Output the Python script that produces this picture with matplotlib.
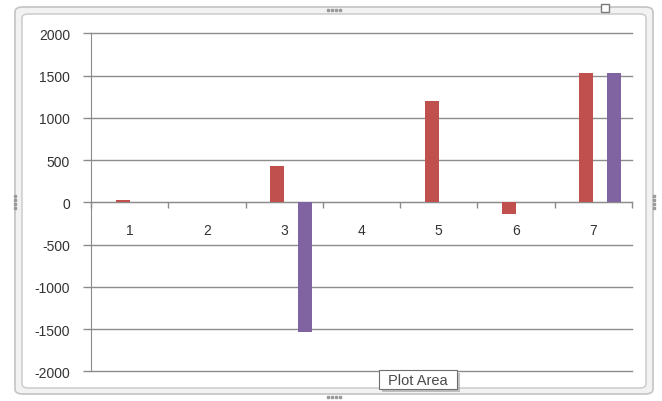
import numpy as np
import matplotlib.pyplot as plt
from matplotlib.patches import FancyBboxPatch, Rectangle

plt.rcParams['axes.unicode_minus'] = False

categories = ['1', '2', '3', '4', '5', '6', '7']
series_1 = [0, 0, 0, 0, 0, 0, 0]
series_2 = [25, 0, 435, 0, 1195, -135, 1535]
series_3 = [0, 0, 0, 0, 0, 0, 0]
series_4 = [0, 0, -1540, 0, 0, 0, 1535]
colors = ['#4F81BD', '#C0504D', '#9BBB59', '#8064A2']

W, H = 662, 402
fig = plt.figure(figsize=(W / 100, H / 100), dpi=100)
fig.patch.set_facecolor('white')

def fx(px):
    return px / W

def fy(py):
    return 1 - py / H

def fig_rect(x0, y0, x1, y1, z=-1, **kw):
    # pixel box (top-left origin) -> figure rectangle
    r = Rectangle((fx(x0), fy(y1)), fx(x1) - fx(x0), fy(y0) - fy(y1),
                  transform=fig.transFigure, zorder=z, **kw)
    fig.patches.append(r)
    return r

# chart frame (outer band + inner white area)
outer = FancyBboxPatch((fx(15), fy(395)), fx(653) - fx(15), fy(8) - fy(395),
                       boxstyle='round,pad=0,rounding_size=0.012',
                       transform=fig.transFigure, facecolor='#f2f2f2',
                       edgecolor='#c4c4c4', linewidth=1.2, zorder=-2)
inner = FancyBboxPatch((fx(22), fy(389)), fx(646) - fx(22), fy(15) - fy(389),
                       boxstyle='round,pad=0,rounding_size=0.01',
                       transform=fig.transFigure, facecolor='white',
                       edgecolor='#c8c8c8', linewidth=1.0, zorder=-1.5)
fig.patches.extend([outer, inner])

# resize grips
for i in range(4):
    fig_rect(327 + i * 4, 10, 329 + i * 4, 12, color='#9a9a9a')
    fig_rect(327 + i * 4, 397, 329 + i * 4, 399, color='#9a9a9a')
    fig_rect(14, 196 + i * 4, 16, 198 + i * 4, color='#9a9a9a')
    fig_rect(653, 196 + i * 4, 655, 198 + i * 4, color='#9a9a9a')
fig_rect(601, 5, 609, 13, facecolor='white', edgecolor='#7a7a7a', linewidth=1.0)

ax = fig.add_axes([fx(91), fy(372.3), fx(632) - fx(91), fy(34.3) - fy(372.3)])
ax.set_facecolor('none')
ax.set_zorder(1)

x = np.arange(1, len(categories) + 1)
w = 1 / 5.5
for k, vals in enumerate([series_1, series_2, series_3, series_4]):
    ax.bar(x + (k - 1.5) * w, vals, width=w, color=colors[k], zorder=3)

ax.set_xlim(0.5, 7.5)
ax.set_ylim(-2000, 2000)
ax.set_yticks(np.arange(-2000, 2001, 500))
ax.yaxis.grid(True, color='#8c8c8c', linewidth=1.0, zorder=0)
ax.set_axisbelow(True)
for gl in ax.yaxis.get_gridlines():
    gl.set_clip_on(False)

for side in ['top', 'right']:
    ax.spines[side].set_visible(False)
ax.spines['left'].set_color('#8c8c8c')
ax.spines['bottom'].set_color('#8c8c8c')
ax.spines['bottom'].set_position(('data', 0))
ax.spines['bottom'].set_zorder(2)

ax.set_xticks(x)
ax.set_xticklabels(categories)
ax.set_xticks(np.arange(0.5, 7.6, 1), minor=True)
ax.tick_params(axis='x', which='major', length=0, pad=15, labelsize=10,
               labelcolor='#333333')
ax.tick_params(axis='x', which='minor', length=4, color='#8c8c8c', width=1)
ax.tick_params(axis='y', length=6, color='#8c8c8c', width=1, pad=9,
               labelsize=10, labelcolor='#333333')
for lab in ax.get_xticklabels() + ax.get_yticklabels():
    lab.set_family('Liberation Sans')

# hover tooltip
fig_rect(382, 374, 460, 393, z=5, facecolor='#9a9a9a', edgecolor='none', alpha=0.6)
fig_rect(379, 371, 457, 390, z=6, facecolor='white', edgecolor='#6e6e6e', linewidth=0.8)
fig.text(fx(418), fy(381), 'Plot Area', ha='center', va='center',
         fontsize=10.5, color='#4a4a4a', family='Liberation Sans', zorder=7)

fig.savefig('out.png', dpi=100)
